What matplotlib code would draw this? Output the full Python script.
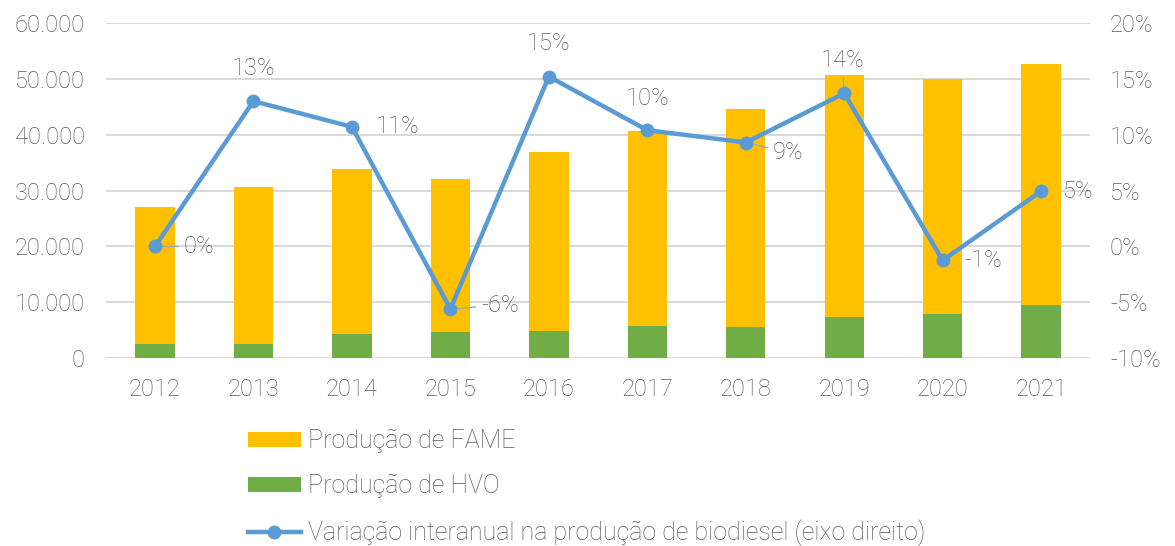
import matplotlib

matplotlib.use("Agg")
import matplotlib.pyplot as plt
from matplotlib.lines import Line2D
from matplotlib.patches import Patch
from matplotlib.ticker import FuncFormatter, MultipleLocator

years = ["2012", "2013", "2014", "2015", "2016", "2017", "2018", "2019", "2020", "2021"]
hvo = [2600, 2600, 4300, 4700, 4900, 5730, 5600, 7280, 7880, 9430]
fame = [24400, 27970, 29550, 27300, 31940, 34930, 38940, 43350, 42150, 43170]
variation = [0.0, 13.0, 10.7, -5.6, 15.2, 10.4, 9.3, 13.7, -1.25, 4.95]
var_labels = ["0%", "13%", "11%", "-6%", "15%", "10%", "9%", "14%", "-1%", "5%"]

# label offsets in pixels (dx, dy), alignment, leader line
label_pos = [
    (29, 0, "left", True), (0, 33, "center", False), (24, 0, "left", False),
    (31, 4, "left", True), (0, 33, "center", False), (0, 32, "center", False),
    (27, -10, "left", True), (-2, 33, "center", True), (22, 0, "left", False),
    (22, 0, "left", False),
]

GREY = "#595959"
GRID = "#d9d9d9"
FAME_C = "#FFC000"
HVO_C = "#70AD47"
LINE_C = "#5B9BD5"
FS = 17

plt.rcParams["font.family"] = ["Roboto", "DejaVu Sans"]
plt.rcParams["font.weight"] = "light"

fig = plt.figure(figsize=(11.75, 5.46), dpi=100)
ax = fig.add_axes([0.090, 0.344, 0.838, 0.614])
ax2 = ax.twinx()

x = range(len(years))
ax.bar(x, hvo, width=0.4, color=HVO_C, zorder=2)
ax.bar(x, fame, width=0.4, bottom=hvo, color=FAME_C, zorder=2)

ax.set_ylim(0, 60000)
ax.set_xlim(-0.5, len(years) - 0.5)
ax.yaxis.set_major_locator(MultipleLocator(10000))
ax.yaxis.set_major_formatter(FuncFormatter(lambda v, _p: f"{v:,.0f}".replace(",", ".")))
ax.set_xticks(list(x))
ax.set_xticklabels(years)
ax.grid(axis="y", color=GRID, linewidth=1.5, zorder=0)
ax.set_axisbelow(True)

ax2.plot(x, variation, color=LINE_C, linewidth=3.2, marker="o", markersize=9, zorder=5)
ax2.set_ylim(-10, 20)
ax2.yaxis.set_major_locator(MultipleLocator(5))
ax2.yaxis.set_major_formatter(FuncFormatter(lambda v, _p: f"{v:.0f}%"))

for i, (v, lab) in enumerate(zip(variation, var_labels)):
    dx, dy, ha, leader = label_pos[i]
    ax2.annotate(
        lab, (i, v), xytext=(dx, dy), textcoords="offset pixels",
        ha=ha, va="center", fontsize=FS, color=GREY,
        arrowprops=dict(arrowstyle="-", color="#a6a6a6", lw=1, shrinkA=2, shrinkB=0) if leader else None,
    )

for a in (ax, ax2):
    for s in a.spines.values():
        s.set_visible(False)
    a.tick_params(length=0, labelsize=FS, colors=GREY)
ax.tick_params(axis="x", pad=14)
ax.tick_params(axis="y", pad=15)
ax2.tick_params(axis="y", pad=14)

handles = [
    Patch(facecolor=FAME_C, label="Produção de FAME"),
    Patch(facecolor=HVO_C, label="Produção de HVO"),
    Line2D([0], [0], color=LINE_C, linewidth=3.2, marker="o", markersize=9,
           label="Variação interanual na produção de biodiesel (eixo direito)"),
]
fig.legend(
    handles=handles, loc="upper left", bbox_to_anchor=(248 / 1175, 1 - 429 / 546),
    frameon=False, fontsize=18, labelcolor=GREY, handlelength=2.1,
    handleheight=0.55, handletextpad=0.3, labelspacing=0.85, borderpad=0,
    borderaxespad=0,
)

fig.savefig("out.png", dpi=100)
